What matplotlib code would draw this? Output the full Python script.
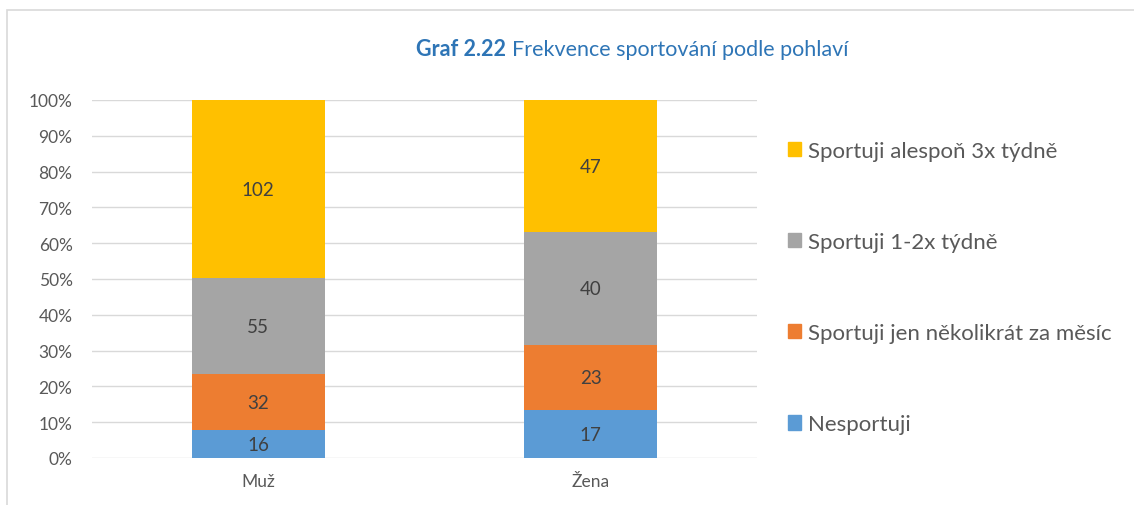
import matplotlib.pyplot as plt
from matplotlib.patches import Patch, Rectangle

categories = ['Muž', 'Žena']
series_names = ['Nesportuji', 'Sportuji jen několikrát za měsíc',
                'Sportuji 1-2x týdně', 'Sportuji alespoň 3x týdně']
counts = [
    [16, 17],
    [32, 23],
    [55, 40],
    [102, 47],
]
colors = ['#5B9BD5', '#ED7D31', '#A5A5A5', '#FFC000']
ytick_labels = ['0%', '10%', '20%', '30%', '40%', '50%', '60%', '70%', '80%', '90%', '100%']

plt.rcParams['font.family'] = ['Lato', 'DejaVu Sans']

fig = plt.figure(figsize=(11.34, 5.06), dpi=100)
ax = fig.add_axes([92 / 1134, 1 - 459 / 506, 665 / 1134, 358 / 506])

totals = [sum(col) for col in zip(*counts)]
x = list(range(len(categories)))
bottom = [0.0] * len(categories)
for name, vals, c in zip(series_names, counts, colors):
    shares = [v / t for v, t in zip(vals, totals)]
    ax.bar(x, shares, width=0.4, bottom=bottom, color=c, label=name, zorder=3)
    for xi, b, s, v in zip(x, bottom, shares, vals):
        ax.text(xi, b + s / 2, str(v), ha='center', va='center',
                fontsize=13.5, color='#404040', zorder=4)
    bottom = [b + s for b, s in zip(bottom, shares)]

ax.set_xlim(-0.5, 1.5)
ax.set_ylim(0, 1)
ax.set_yticks([i / 10 for i in range(11)])
ax.set_yticklabels(ytick_labels)
ax.set_xticks(x)
ax.set_xticklabels(categories)
ax.tick_params(length=0, labelsize=12.5, labelcolor='#595959')
ax.tick_params(axis='y', pad=14)
ax.tick_params(axis='x', pad=11)
ax.grid(axis='y', color='#D9D9D9', linewidth=1, zorder=0)
for s in ax.spines.values():
    s.set_visible(False)

# chart frame
fig.patches.append(Rectangle((7 / 1134, -0.1), 1.2, 1 - 11 / 506 + 0.1,
                             transform=fig.transFigure, fill=False,
                             edgecolor='#D9D9D9', linewidth=1.2))

# legend, top entry first
handles = [Patch(color=c) for c in colors][::-1]
fig.legend(handles, series_names[::-1], loc='upper left',
           bbox_to_anchor=(768 / 1134, 1 - 122 / 506), frameon=False,
           fontsize=16, labelcolor='#595959', labelspacing=3.2,
           handlelength=0.6, handleheight=0.6, handletextpad=0.3)

# title: bold prefix + regular text, centred as a whole
title_y = 1 - 50 / 506
t1 = fig.text(0, title_y, 'Graf 2.22', fontsize=15.5,
              fontweight='bold', color='#2E75B6', ha='left', va='center')
t2 = fig.text(0, title_y, 'Frekvence sportování podle pohlaví',
              fontsize=15.5, color='#2E75B6', ha='left', va='center')
fig.canvas.draw()
w1 = t1.get_window_extent().width
w2 = t2.get_window_extent().width
gap = 6
start = 632 - (w1 + gap + w2) / 2
t1.set_x(start / 1134)
t2.set_x((start + w1 + gap) / 1134)

fig.savefig('out.png', dpi=100)
